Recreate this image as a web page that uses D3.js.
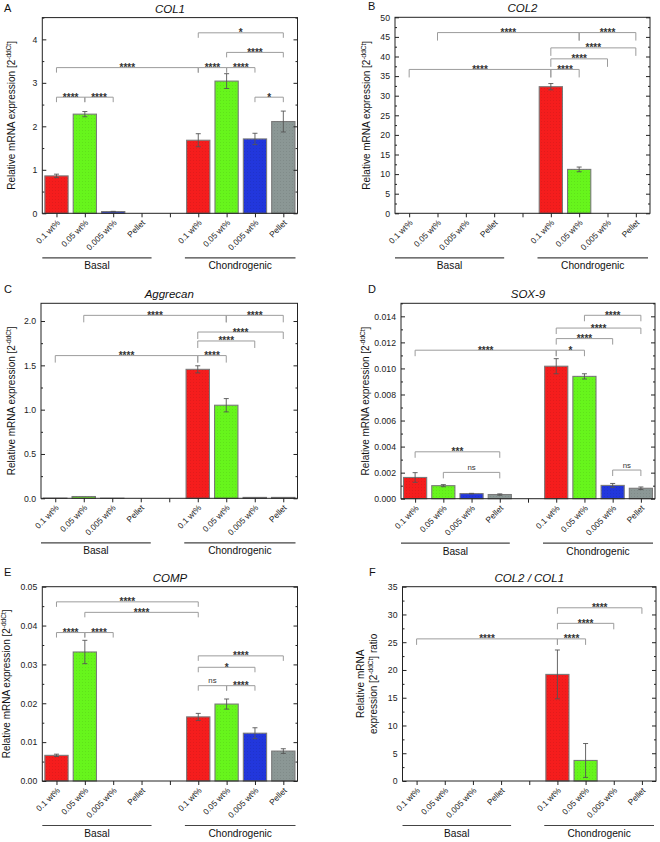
<!DOCTYPE html>
<html><head><meta charset="utf-8">
<script src="https://cdn.jsdelivr.net/npm/d3@7"></script>
<style>body{margin:0;background:#fff}svg{display:block}text{font-family:"Liberation Sans",Arial,sans-serif}</style>
</head><body><svg id="c" width="660" height="842"></svg>
<script>
// ---------- data ----------
const categories = ["0.1 wt%", "0.05 wt%", "0.005 wt%", "Pellet"];
const groups = ["Basal", "Chondrogenic"];

// A: COL1
const col1Basal = [0.86, 2.28, 0.04, 0];
const col1BasalErr = [0.04, 0.06, 0.005, 0];
const col1Chondro = [1.68, 3.04, 1.71, 2.11];
const col1ChondroErr = [0.15, 0.17, 0.13, 0.24];
const col1Brackets = [[0,1,2.67,"****"],[1,2,2.67,"****"],[0,5,3.35,"****"],[5,6,3.35,"****"],[6,7,3.35,"****"],[6,8,3.70,"****"],[5,8,4.15,"*"],[7,8,2.67,"*"]];
const col1Ticks = [0,1,2,3,4];

// B: COL2
const col2Basal = [0, 0, 0, 0];
const col2BasalErr = [0, 0, 0, 0];
const col2Chondro = [32.3, 11.2, 0, 0];
const col2ChondroErr = [0.8, 0.6, 0, 0];
const col2Brackets = [[0,5,36.7,"****"],[5,6,36.7,"****"],[5,7,39.4,"****"],[5,8,42.2,"****"],[1,6,46.1,"****"],[6,8,46.1,"****"]];
const col2Ticks = [0,5,10,15,20,25,30,35,40,45,50];

// C: Aggrecan
const aggBasal = [0.002, 0.02, 0.001, 0];
const aggBasalErr = [0, 0, 0, 0];
const aggChondro = [1.455, 1.05, 0.01, 0.01];
const aggChondroErr = [0.04, 0.075, 0, 0];
const aggBrackets = [[0,5,1.61,"****"],[5,6,1.61,"****"],[5,7,1.775,"****"],[5,8,1.876,"****"],[1,6,2.064,"****"],[6,8,2.064,"****"]];
const aggTicks = [0,0.5,1.0,1.5,2.0];

// D: SOX-9
const soxBasal = [0.00163, 0.00100, 0.00039, 0.00032];
const soxBasalErr = [0.00037, 0.00008, 0.00002, 0.00005];
const soxChondro = [0.01017, 0.00939, 0.00102, 0.00080];
const soxChondroErr = [0.00058, 0.00020, 0.00015, 0.00010];
const soxBrackets = [[0,5,0.0114,"****"],[5,6,0.0114,"*"],[5,7,0.01229,"****"],[5,8,0.0131,"****"],[6,8,0.01408,"****"],[0,3,0.0036,"***"],[1,3,0.00202,"ns"],[7,8,0.0022,"ns"]];
const soxTicks = [0,0.002,0.004,0.006,0.008,0.010,0.012,0.014];

// E: COMP
const compBasal = [0.0066, 0.0332, 0, 0];
const compBasalErr = [0.0003, 0.003, 0, 0];
const compChondro = [0.0165, 0.0198, 0.0123, 0.0077];
const compChondroErr = [0.0009, 0.0013, 0.0014, 0.0006];
const compBrackets = [[0,5,0.0461,"****"],[1,5,0.0434,"****"],[0,1,0.0382,"****"],[1,2,0.0382,"****"],[5,8,0.0322,"****"],[5,7,0.02926,"*"],[5,6,0.02453,"ns"],[6,7,0.02453,"****"]];
const compTicks = [0,0.01,0.02,0.03,0.04,0.05];

// F: COL2 / COL1
const ratioBasal = [0, 0, 0, 0];
const ratioBasalErr = [0, 0, 0, 0];
const ratioChondro = [19.2, 3.7, 0, 0];
const ratioChondroErr = [4.4, 3.05, 0, 0];
const ratioBrackets = [[0,5,25.6,"****"],[5,6,25.6,"****"],[5,7,28.4,"****"],[5,8,31.2,"****"]];
const ratioTicks = [0,5,10,15,20,25,30,35];

// ---------- drawing ----------
const svg = d3.select("#c");
const barColors = ["#f51d1d", "#67f51c", "#2237dc", "#8b9795"];
const defs = svg.append("defs");
const pat = defs.append("pattern").attr("id","dots").attr("width",3).attr("height",3).attr("patternUnits","userSpaceOnUse");
pat.append("rect").attr("x",1).attr("y",1).attr("width",1).attr("height",1).attr("fill","#000").attr("opacity",0.08);

const slotKeys = d3.range(9).map(String);

function drawPanel(p) {
  const g = svg.append("g");
  const x = d3.scalePoint().domain(slotKeys).range([p.left, p.right]).padding(0.5);
  const step = x.step();
  const y = d3.scaleLinear().domain([0, p.max]).range([p.bottom, p.top]);
  const bw = step * 0.82;

  g.append("text").attr("x", p.letterX).attr("y", p.letterY).attr("font-size", 11).attr("fill","#111").text(p.letter);
  g.append("text").attr("x", (p.left + p.right) / 2).attr("y", p.top - 5).attr("text-anchor","middle")
    .attr("font-size", 11.5).attr("font-style","italic").attr("fill","#111").text(p.title);

  const rows = [];
  groups.forEach((grp, gi) => {
    const vals = gi === 0 ? p.basal : p.chondro;
    const errs = gi === 0 ? p.basalErr : p.chondroErr;
    categories.forEach((c, ci) => rows.push({slot: String(gi * 5 + ci), v: vals[ci], e: errs[ci], ci}));
  });
  const bars = g.append("g");
  bars.selectAll("rect.bar").data(rows.filter(d => d.v > 0)).join("rect").attr("class","bar")
    .attr("x", d => x(d.slot) - bw / 2).attr("width", bw)
    .attr("y", d => y(d.v)).attr("height", d => y(0) - y(d.v))
    .attr("fill", d => barColors[d.ci]).attr("stroke", "#7a7a7a").attr("stroke-width", 1.1);
  bars.selectAll("rect.pat").data(rows.filter(d => d.v > 0)).join("rect").attr("class","pat")
    .attr("x", d => x(d.slot) - bw / 2).attr("width", bw)
    .attr("y", d => y(d.v)).attr("height", d => y(0) - y(d.v)).attr("fill","url(#dots)");

  const eb = g.append("g").attr("stroke", "#555").attr("stroke-width", 0.9);
  rows.filter(d => d.e > 0).forEach(d => {
    const cx = x(d.slot);
    eb.append("line").attr("x1", cx).attr("x2", cx).attr("y1", y(d.v - d.e)).attr("y2", y(d.v + d.e));
    eb.append("line").attr("x1", cx - 2.5).attr("x2", cx + 2.5).attr("y1", y(d.v + d.e)).attr("y2", y(d.v + d.e));
    eb.append("line").attr("x1", cx - 2.5).attr("x2", cx + 2.5).attr("y1", y(d.v - d.e)).attr("y2", y(d.v - d.e));
  });

  g.append("rect").attr("x", p.left).attr("y", p.top).attr("width", p.right - p.left).attr("height", p.bottom - p.top)
    .attr("fill","none").attr("stroke","#222").attr("stroke-width",1);

  const minor = d3.range(0, p.max + 1e-12, p.minorStep).filter(v => !p.ticks.some(t => Math.abs(t - v) < 1e-9));
  const yl = g.append("g").attr("transform", `translate(${p.left},0)`)
    .call(d3.axisLeft(y).tickValues(p.ticks).tickFormat(d3.format(p.fmt)).tickSize(-4).tickPadding(5));
  yl.select(".domain").remove();
  yl.selectAll("text").attr("font-size", 8.7).attr("fill","#222").attr("font-family",'"Liberation Sans",Arial,sans-serif');
  yl.selectAll("line").attr("stroke","#222");
  const ym = g.append("g").attr("transform", `translate(${p.left},0)`)
    .call(d3.axisLeft(y).tickValues(minor).tickFormat("").tickSize(-2));
  ym.select(".domain").remove(); ym.selectAll("line").attr("stroke","#222");
  const yr = g.append("g").attr("transform", `translate(${p.right},0)`)
    .call(d3.axisRight(y).tickValues(p.ticks).tickFormat("").tickSize(-4));
  yr.select(".domain").remove(); yr.selectAll("line").attr("stroke","#222");
  const yrm = g.append("g").attr("transform", `translate(${p.right},0)`)
    .call(d3.axisRight(y).tickValues(minor).tickFormat("").tickSize(-2));
  yrm.select(".domain").remove(); yrm.selectAll("line").attr("stroke","#222");

  const xa = g.append("g").attr("transform", `translate(0,${p.bottom})`)
    .call(d3.axisBottom(x).tickFormat("").tickSize(4));
  xa.select(".domain").remove(); xa.selectAll("line").attr("stroke","#222");

  rows.forEach(d => {
    g.append("text").attr("transform", `translate(${x(d.slot) + 4},${p.bottom + 10}) rotate(-45)`)
      .attr("text-anchor","end").attr("font-size", 8.3).attr("fill","#222").text(categories[d.ci]);
  });

  const gy = p.bottom + 44.5;
  const spans = [[p.left, x("3") + 10], [x("4") + 15, p.right - 2]];
  spans.forEach((s, i) => {
    g.append("line").attr("x1", s[0]).attr("x2", s[1]).attr("y1", gy).attr("y2", gy).attr("stroke","#444").attr("stroke-width",1.2);
    g.append("text").attr("x", (s[0] + s[1]) / 2).attr("y", gy + 11.5).attr("text-anchor","middle")
      .attr("font-size", 10.2).attr("fill","#111").text(groups[i]);
  });

  const cy = (p.top + p.bottom) / 2;
  const lbl = g.append("text").attr("transform", `translate(${p.ylabelX},${cy}) rotate(-90)`)
    .attr("text-anchor","middle").attr("font-size", 10).attr("fill","#111");
  if (p.twoLine) {
    lbl.append("tspan").attr("x",0).attr("dy", -13).text("Relative mRNA");
    lbl.append("tspan").attr("x",0).attr("dy", 13.5).text("expression [2");
    lbl.append("tspan").attr("font-size", 6.5).attr("dy", -4).text("-ddCt");
    lbl.append("tspan").attr("dy", 4).text("] ratio");
  } else {
    lbl.append("tspan").text("Relative mRNA expression [2");
    lbl.append("tspan").attr("font-size", 6.5).attr("dy", -4).text("-ddCt");
    lbl.append("tspan").attr("dy", 4).text("]");
  }

  const br = g.append("g");
  p.brackets.forEach(b => {
    const x1 = x(String(b[0])), x2 = x(String(b[1])), yy = y(b[2]);
    br.append("path").attr("d", `M${x1},${yy + p.leg}V${yy}H${x2}V${yy + p.leg}`)
      .attr("fill","none").attr("stroke","#9c9c9c").attr("stroke-width",1);
    const star = b[3].includes("*");
    br.append("text").attr("x", (x1 + x2) / 2).attr("y", star ? yy + 3.5 : yy - 2.5).attr("text-anchor","middle")
      .attr("font-size", star ? 10 : 7.8).attr("font-weight", star ? "bold" : "normal").attr("fill","#333").text(b[3]);
  });
}

const panels = [
  {letter:"A", letterX:4, letterY:12, title:"COL1", left:42.3, right:297.5, top:17.6, bottom:213.3, max:4.5, ticks:col1Ticks, minorStep:0.5, fmt:"d",
   basal:col1Basal, basalErr:col1BasalErr, chondro:col1Chondro, chondroErr:col1ChondroErr, brackets:col1Brackets, leg:5, ylabelX:15},
  {letter:"B", letterX:368, letterY:10, title:"COL2", left:395, right:650, top:17.3, bottom:213.3, max:50, ticks:col2Ticks, minorStep:2.5, fmt:"d",
   basal:col2Basal, basalErr:col2BasalErr, chondro:col2Chondro, chondroErr:col2ChondroErr, brackets:col2Brackets, leg:8, ylabelX:370},
  {letter:"C", letterX:4, letterY:293, title:"Aggrecan", left:41, right:297.5, top:303.3, bottom:498.3, max:2.2, ticks:aggTicks, minorStep:0.25, fmt:".1f",
   basal:aggBasal, basalErr:aggBasalErr, chondro:aggChondro, chondroErr:aggChondroErr, brackets:aggBrackets, leg:7, ylabelX:15},
  {letter:"D", letterX:368, letterY:293, title:"SOX-9", left:401, right:655, top:303.3, bottom:498.7, max:0.015, ticks:soxTicks, minorStep:0.001, fmt:".3f",
   basal:soxBasal, basalErr:soxBasalErr, chondro:soxChondro, chondroErr:soxChondroErr, brackets:soxBrackets, leg:6, ylabelX:369},
  {letter:"E", letterX:4, letterY:576, title:"COMP", left:42.3, right:297.5, top:586.7, bottom:781, max:0.05, ticks:compTicks, minorStep:0.005, fmt:".2f",
   basal:compBasal, basalErr:compBasalErr, chondro:compChondro, chondroErr:compChondroErr, brackets:compBrackets, leg:5, ylabelX:9.5},
  {letter:"F", letterX:369, letterY:576, title:"COL2 / COL1", left:402.5, right:656, top:586.7, bottom:781, max:35, ticks:ratioTicks, minorStep:2.5, fmt:"d",
   basal:ratioBasal, basalErr:ratioBasalErr, chondro:ratioChondro, chondroErr:ratioChondroErr, brackets:ratioBrackets, leg:6, ylabelX:376.5, twoLine:true}
];
panels.forEach(drawPanel);
</script></body></html>
